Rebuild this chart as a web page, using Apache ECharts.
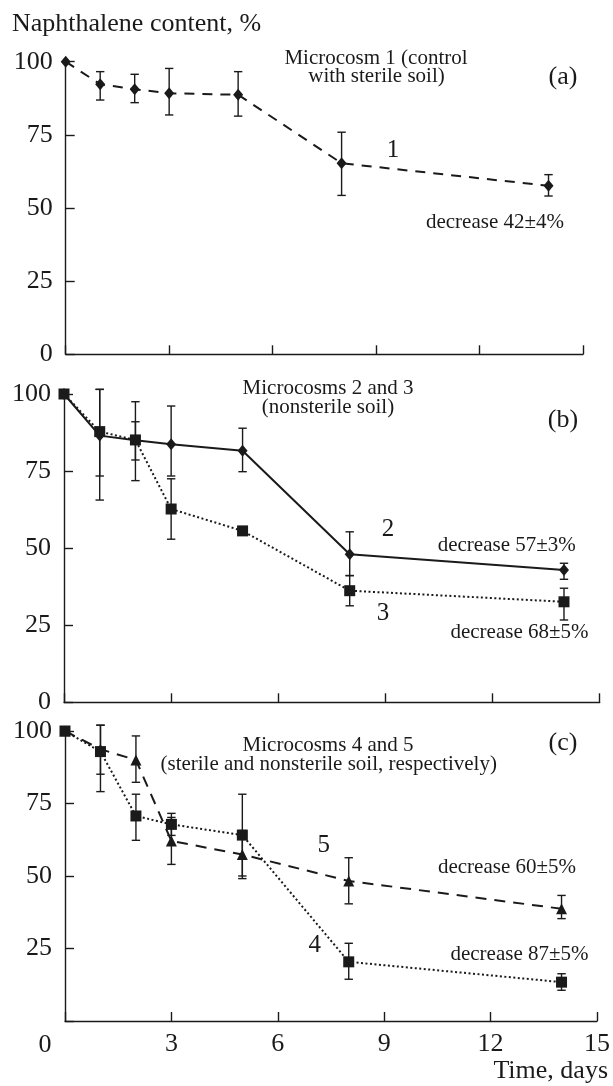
<!DOCTYPE html>
<html>
<head>
<meta charset="utf-8">
<script src="https://cdn.jsdelivr.net/npm/echarts@6/dist/echarts.min.js"></script>
<style>
html,body{margin:0;padding:0;background:#fff;}
#chart{width:613px;height:1086px;}
</style>
</head>
<body>
<div id="chart"></div>
<script>
// ---- data ----
const days = [0, 1, 2, 3, 5, 8, 14];
const xTicks = [0, 3, 6, 9, 12, 15];
const yTicks = [0, 25, 50, 75, 100];

// panel (a) microcosm 1
const m1 = [100, 92.3, 90.6, 89.2, 88.7, 65.3, 57.6];
const m1Hi = [null, 96.6, 95.7, 97.7, 96.6, 75.9, 61.4];
const m1Lo = [null, 86.9, 86.0, 81.8, 81.4, 54.3, 54.1];

// panel (b) microcosms 2 and 3
const m2 = [100, 86.5, 85.0, 83.7, 81.6, 48.0, 42.9];
const m2Hi = [null, 101.5, 91.0, 96.1, 88.9, 55.3, 45.1];
const m2Lo = [null, 65.6, 78.6, 73.4, 74.8, 41.1, 39.9];
const m3 = [100, 87.8, 85.1, 62.7, 55.6, 36.2, 32.6];
const m3Hi = [null, 101.5, 97.5, 72.5, null, 41.1, 37.0];
const m3Lo = [null, 73.4, 71.9, 52.9, null, 31.3, 26.7];

// panel (c) microcosms 4 and 5
const m4 = [100, 92.9, 70.7, 67.8, 64.1, 20.4, 13.4];
const m4Hi = [null, 102.0, 78.2, 71.6, 78.2, 26.8, 16.3];
const m4Lo = [null, 79.1, 62.3, 64.0, 50.0, 14.4, 10.6];
const m5 = [100, 93.7, 90.0, 62.1, 57.4, 48.3, 38.7];
const m5Hi = [null, 102.0, 98.3, 70.2, 65.7, 56.3, 43.3];
const m5Lo = [null, 85.1, 82.3, 54.0, 49.1, 40.4, 35.3];

// ---- helpers ----
const INK = '#1a1a1a';
const FONT = '"Liberation Serif", "Times New Roman", serif';

function pts(vals) { return days.map((d, i) => [d, vals[i]]); }
function errs(hi, lo) {
  const out = [];
  days.forEach((d, i) => { if (hi[i] != null && lo[i] != null) out.push([d, lo[i], hi[i]]); });
  return out;
}
function errSeries(idx, hi, lo) {
  return {
    type: 'custom', xAxisIndex: idx, yAxisIndex: idx, z: 2,
    data: errs(hi, lo),
    renderItem: function (params, api) {
      const top = api.coord([api.value(0), api.value(2)]);
      const bot = api.coord([api.value(0), api.value(1)]);
      const w = 4.2;
      const st = { stroke: INK, lineWidth: 1.4 };
      return {
        type: 'group',
        children: [
          { type: 'line', shape: { x1: top[0], y1: top[1], x2: bot[0], y2: bot[1] }, style: st },
          { type: 'line', shape: { x1: top[0] - w, y1: top[1], x2: top[0] + w, y2: top[1] }, style: st },
          { type: 'line', shape: { x1: bot[0] - w, y1: bot[1], x2: bot[0] + w, y2: bot[1] }, style: st }
        ]
      };
    }
  };
}
function lineSeries(idx, vals, symbol, size, dash) {
  return {
    type: 'line', xAxisIndex: idx, yAxisIndex: idx, z: 3, clip: false,
    data: pts(vals), symbol: symbol, symbolSize: size, showSymbol: true,
    itemStyle: { color: INK },
    lineStyle: { color: INK, width: 2, type: dash },
    animation: false
  };
}
function xAx(idx, showLabels) {
  return {
    type: 'value', gridIndex: idx, min: 0, max: 15, interval: 3,
    axisLine: { lineStyle: { color: INK, width: 1.4 } },
    axisTick: { inside: true, length: 9, lineStyle: { color: INK, width: 1.4 } },
    splitLine: { show: false },
    axisLabel: {
      show: showLabels, margin: 10, color: INK, fontFamily: FONT, fontSize: 26,
      formatter: v => (v === 0 ? '' : String(v))
    }
  };
}
function yAx(idx, hideZero) {
  return {
    type: 'value', gridIndex: idx, min: 0, max: 100, interval: 25,
    axisLine: { show: true, lineStyle: { color: INK, width: 1.4 } },
    axisTick: { show: true, inside: true, length: 9, lineStyle: { color: INK, width: 1.4 } },
    splitLine: { show: false },
    axisLabel: {
      margin: 13, color: INK, fontFamily: FONT, fontSize: 26,
      formatter: v => (hideZero && v === 0 ? '' : String(v))
    }
  };
}
function txt(text, x, y, size, align) {
  return {
    type: 'text', x: x, y: y, silent: true,
    style: { text: text, fill: INK, font: size + 'px ' + FONT, align: align || 'center', verticalAlign: 'middle' }
  };
}

const chart = echarts.init(document.getElementById('chart'), null, { renderer: 'canvas' });
chart.setOption({
  animation: false,
  backgroundColor: '#fff',
  grid: [
    { left: 65.7, top: 61.7, width: 517.3, height: 292.6 },
    { left: 64, top: 394, width: 535.7, height: 308.3 },
    { left: 65, top: 731, width: 532, height: 290 }
  ],
  xAxis: [xAx(0, false), xAx(1, false), xAx(2, true)],
  yAxis: [yAx(0, false), yAx(1, false), yAx(2, true)],
  series: [
    errSeries(0, m1Hi, m1Lo),
    lineSeries(0, m1, 'diamond', [10, 12], [10, 8]),
    errSeries(1, m2Hi, m2Lo),
    errSeries(1, m3Hi, m3Lo),
    lineSeries(1, m2, 'diamond', [10, 12], 'solid'),
    lineSeries(1, m3, 'rect', 11, [2, 2.5]),
    errSeries(2, m4Hi, m4Lo),
    errSeries(2, m5Hi, m5Lo),
    lineSeries(2, m4, 'rect', 11, [2, 2.5]),
    lineSeries(2, m5, 'triangle', 11, [11, 8])
  ],
  graphic: [
    txt('Naphthalene content, %', 12, 24.5, 26, 'left'),
    txt('Microcosm 1 (control', 376, 58.6, 21),
    txt('with sterile soil)', 376.5, 76.9, 21),
    txt('(a)', 563, 77.2, 26),
    txt('1', 393, 150.5, 25),
    txt('decrease 42±4%', 495, 222.2, 21),

    txt('Microcosms 2 and 3', 328, 388, 21),
    txt('(nonsterile soil)', 328, 407, 21),
    txt('(b)', 563, 420.5, 26),
    txt('2', 388, 529.8, 25),
    txt('decrease 57±3%', 506.7, 545.6, 21),
    txt('3', 383, 613.2, 25),
    txt('decrease 68±5%', 519.5, 632.2, 21),

    txt('Microcosms 4 and 5', 328, 745.2, 21),
    txt('(sterile and nonsterile soil, respectively)', 328.7, 764.6, 21),
    txt('(c)', 563, 742.9, 26),
    txt('5', 323.7, 845.8, 25),
    txt('decrease 60±5%', 507, 867.9, 21),
    txt('4', 314.7, 945.8, 25),
    txt('decrease 87±5%', 519.5, 954.9, 21),
    txt('0', 45, 1045.5, 26),
    txt('Time, days', 608, 1071, 26, 'right')
  ]
});
</script>
</body>
</html>
